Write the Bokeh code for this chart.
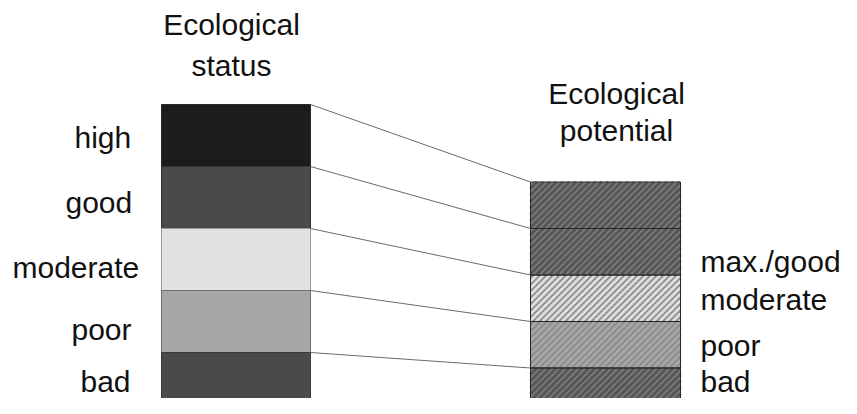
import numpy as np
from bokeh.plotting import figure
from bokeh.models import Range1d, ColumnDataSource
from bokeh.core.properties import value
from bokeh.embed import file_html
from bokeh.resources import INLINE

# ---- data -------------------------------------------------------------
status_labels = ["high", "good", "moderate", "poor", "bad"]
status_heights = [1, 1, 1, 1, 1]
potential_labels = ["", "max./good", "moderate", "poor", "bad"]
potential_heights = [0.75, 0.75, 0.75, 0.75, 0.75]
title_status = ["Ecological", "status"]
title_potential = ["Ecological", "potential"]

# ---- styles / layout ----------------------------------------------------
FONT = value("Liberation Sans")
FS = "30px"
PX_PER_UNIT = 62.0
BASE_PX = 414.0  # picture pixel of value 0
W, H = 841, 398


def py(page_y):
    return (BASE_PX - page_y) / PX_PER_UNIT


def to_px(v):
    return BASE_PX - np.asarray(v) * PX_PER_UNIT


status_fill = ["#1c1c1c", "#4a4a4a", "#e2e2e2", "#a7a7a7", "#4a4a4a"]
status_line = ["#2a2a2a", "#333333", "#9a9a9a", "#707070", "#3a3a3a"]
pot_fill = ["#7c7c7c", "#7c7c7c", "#8c8c8c", "#8a8a8a", "#7c7c7c"]
pot_stripe = ["#565656", "#565656", "#dedede", "#a6a6a6", "#565656"]
STRIPE_STEP = 6.5
STRIPE_W = 3

L_X0, L_X1 = 161, 310
R_X0, R_X1 = 530, 680


def stack(heights):
    h = np.array(heights[::-1], dtype=float)  # bottom class first
    tops = np.cumsum(h)
    bots = tops - h
    return bots[::-1], tops[::-1]


s_bot, s_top = stack(status_heights)
p_bot, p_top = stack(potential_heights)

p = figure(width=W, height=H,
           x_range=Range1d(0, W), y_range=Range1d(py(H), py(0)),
           output_backend="svg", toolbar_location=None, min_border=0)
p.xaxis.visible = False
p.yaxis.visible = False
p.grid.visible = False
p.outline_line_color = None
p.background_fill_color = "white"
p.border_fill_color = "white"

# left bar
src_s = ColumnDataSource(dict(bottom=s_bot, top=s_top, fill=status_fill, line=status_line))
p.quad(left=L_X0, right=L_X1, bottom="bottom", top="top", fill_color="fill",
       line_color="line", line_width=1, source=src_s)

# right bar: base fill
src_p = ColumnDataSource(dict(bottom=p_bot, top=p_top, fill=pot_fill))
p.quad(left=R_X0, right=R_X1, bottom="bottom", top="top", fill_color="fill",
       line_color=None, source=src_p)

# right bar: diagonal "/" stripes, clipped to each class box
sx0, sy0, sx1, sy1, scol = [], [], [], [], []
for b, t, col in zip(p_bot, p_top, pot_stripe):
    yt, yb = float(to_px(t)), float(to_px(b))
    c = R_X0 + yt
    while c < R_X1 + yb + STRIPE_STEP:
        xa = max(R_X0, c - yb)
        xb = min(R_X1, c - yt)
        if xb > xa:
            sx0.append(xa); sy0.append(py(c - xa))
            sx1.append(xb); sy1.append(py(c - xb))
            scol.append(col)
        c += STRIPE_STEP
p.segment(x0=sx0, y0=sy0, x1=sx1, y1=sy1, line_color=scol,
          line_width=STRIPE_W, line_cap="butt")

# right bar outlines
p.quad(left=R_X0, right=R_X1, bottom="bottom", top="top", fill_alpha=0,
       line_color="#262626", line_width=1, source=src_p)

# connecting lines
p.segment(x0=L_X1, y0=s_top, x1=R_X0, y1=p_top, line_color="#6a6a6a", line_width=1)

# left labels
left_x = [74, 65, 12, 71, 80]
left_base = [137, 202, 267, 329, 381]
p.text(x=left_x, y=[py(b) for b in left_base], text=status_labels,
       text_font=FONT, text_font_size=FS, text_align="left",
       text_baseline="alphabetic", text_color="#111111")

# right labels
right_base = [0, 261, 299, 345, 381]
p.text(x=[700] * 5, y=[py(b) for b in right_base], text=potential_labels,
       text_font=FONT, text_font_size=FS, text_align="left",
       text_baseline="alphabetic", text_color="#111111")

# titles
p.text(x=[231, 231], y=[py(24), py(65)], text=title_status,
       text_font=FONT, text_font_size=FS, text_align="center",
       text_baseline="alphabetic", text_color="#111111")
p.text(x=[616, 616], y=[py(93), py(130)], text=title_potential,
       text_font=FONT, text_font_size=FS, text_align="center",
       text_baseline="alphabetic", text_color="#111111")

open("out.html", "w").write(file_html(p, INLINE))
